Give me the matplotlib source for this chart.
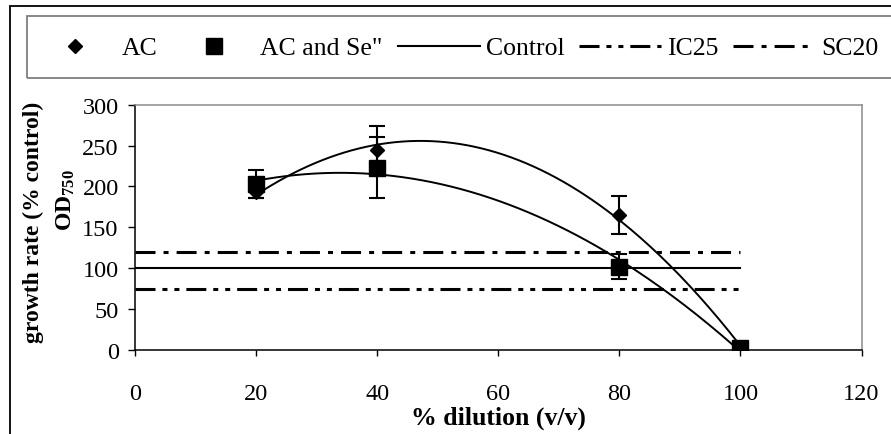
import numpy as np
import matplotlib
matplotlib.use("Agg")
import matplotlib.pyplot as plt
import matplotlib.patches as mpatches

plt.rcParams['font.family'] = ['Liberation Serif', 'DejaVu Serif']
plt.rcParams['mathtext.fontset'] = 'custom'
plt.rcParams['mathtext.rm'] = 'Liberation Serif'
plt.rcParams['mathtext.bf'] = 'Liberation Serif:bold'
plt.rcParams['lines.scale_dashes'] = False

# data
dilution = [20, 40, 80, 100]
ac = [193, 245, 165, 2]
ac_err = [7, 29, 23, 0]
ac_se = [203, 223, 102, 2]
ac_se_err = [17, 37, 15, 0]
control = 100
ic25 = 75
sc20 = 120
line_x = [0, 100]

fig = plt.figure(figsize=(8.91, 4.35), dpi=100)
ax = fig.add_axes([0.1519, 0.1931, 0.8150, 0.5639])

# outer frame and legend frame
fig.patches.append(mpatches.Rectangle((9.5 / 891, -0.1), 1.2, 1 - 7 / 435 + 0.1,
                                      transform=fig.transFigure, fill=False,
                                      edgecolor='black', lw=1.3, zorder=0))
fig.patches.append(mpatches.Rectangle((26.7 / 891, 1 - 79 / 435), 1.2, (79 - 17.3) / 435,
                                      transform=fig.transFigure, fill=False,
                                      edgecolor='#7f7f7f', lw=1.3, zorder=0))

# error bars + markers
ax.errorbar(dilution, ac, yerr=ac_err, fmt='none', ecolor='black', elinewidth=1.5,
            capsize=5.5, capthick=1.5, zorder=3)
ax.errorbar(dilution, ac_se, yerr=ac_se_err, fmt='none', ecolor='black', elinewidth=1.5,
            capsize=5.5, capthick=1.5, zorder=3)
h_ac, = ax.plot(dilution, ac, 'D', color='black', markersize=7.5, ls='none', zorder=4, label='AC')
h_se, = ax.plot(dilution, ac_se, 's', color='black', markersize=11, ls='none', zorder=4,
                label='AC and Se"')

# polynomial (order 2) trend lines, as in the original
xs = np.linspace(dilution[0], dilution[-1], 200)
ax.plot(xs, np.polyval(np.polyfit(dilution, ac, 2), xs), color='black', lw=1.4, zorder=3)
ax.plot(xs, np.polyval(np.polyfit(dilution, ac_se, 2), xs), color='black', lw=1.4, zorder=3)

# reference lines
h_c, = ax.plot(line_x, [control, control], color='black', lw=1.5, label='Control')
h_ic, = ax.plot(line_x, [ic25, ic25], color='black', lw=2.2,
                dashes=[14.4, 5.0, 3.6, 5.0, 3.6, 5.0], label='IC25')
h_sc, = ax.plot(line_x, [sc20, sc20], color='black', lw=2.2,
                dashes=[14.4, 5.8, 3.6, 5.8], label='SC20')

ax.set_xlim(0, 120)
ax.set_ylim(0, 300)
ax.set_xticks(range(0, 121, 20))
ax.set_yticks(range(0, 301, 50))
ax.tick_params(axis='x', direction='out', length=4.5, width=1, pad=19, labelsize=17.5)
ax.tick_params(axis='y', direction='out', length=5, width=1, pad=7, labelsize=17.5)
for s in ['left', 'bottom']:
    ax.spines[s].set_color('black')
    ax.spines[s].set_linewidth(1.1)
for s in ['top', 'right']:
    ax.spines[s].set_color('#8c8c8c')
    ax.spines[s].set_linewidth(1.1)

ax.set_xlabel('% dilution (v/v)', fontsize=18.5, fontweight='bold')
ax.xaxis.set_label_coords(0.5, -0.273)
ax.xaxis.label.set_va('center')
ax.set_ylabel('growth rate (% control)', fontsize=17, fontweight='bold')
ax.yaxis.set_label_coords(-0.1409, 0.526)
ax.yaxis.label.set_va('center')
ax.text(-0.0954, 0.6156, r'$\mathbf{OD_{750}}$', transform=ax.transAxes, rotation=90,
        ha='center', va='center', fontsize=17)

fig.legend(handles=[h_ac, h_se, h_c, h_ic, h_sc], loc='center left',
           bbox_to_anchor=(34 / 891, 1 - 49 / 435), ncol=5, frameon=False,
           fontsize=18.5, borderpad=0, borderaxespad=0, handlelength=3.19,
           handletextpad=0.23, columnspacing=0.58)

fig.savefig('out.png', dpi=100)
